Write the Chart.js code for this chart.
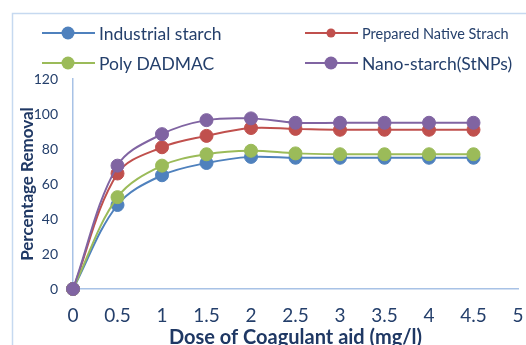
<!DOCTYPE html>
<html>
<head>
<meta charset="utf-8">
<script src="https://cdn.jsdelivr.net/npm/chart.js@4"></script>
<style>
  html, body { margin: 0; padding: 0; background: #ffffff; }
  #wrap { width: 526px; height: 345px; position: relative; }
</style>
</head>
<body>
<div id="wrap"><canvas id="c" width="526" height="345"></canvas></div>
<script>
// Dose of coagulant aid (mg/l)
const doses = [0, 0.5, 1, 1.5, 2, 2.5, 3, 3.5, 4, 4.5];

// Percentage removal for each coagulant aid
const industrialStarch = [0, 48, 65, 72, 75.5, 75, 75, 75, 75, 75];
const preparedNative   = [0, 66, 81, 87.5, 92, 91.5, 91, 91, 91, 91];
const polyDadmac       = [0, 52.5, 70.5, 77, 79, 77.5, 77, 77, 77, 77];
const nanoStarch       = [0, 70.5, 88.5, 96.5, 97.5, 95, 95, 95, 95, 95];

const seriesLabels = ['Industrial starch', 'Prepared Native Strach', 'Poly DADMAC', 'Nano-starch(StNPs)'];
const seriesColors = ['#4f81bd', '#c0504d', '#9bbb59', '#8064a2'];

const FONT = 'Lato, "Open Sans", sans-serif';
const TEXT_BLUE = '#243f6b';

function points(values) {
  return doses.map((d, i) => ({ x: d, y: values[i] }));
}

// Later series are painted over earlier ones
function makeSet(label, values, color, order) {
  return {
    label: label,
    data: points(values),
    order: order,
    clip: false,
    borderColor: color,
    backgroundColor: color,
    borderWidth: 2,
    tension: 0.35,
    pointRadius: 6.5,
    pointBorderWidth: 1,
    pointBorderColor: color,
    pointBackgroundColor: color
  };
}

// Outer frame and two-column legend drawn on the canvas
const frameAndLegend = {
  id: 'frameAndLegend',
  beforeDraw(chart) {
    const ctx = chart.ctx;
    ctx.save();
    ctx.strokeStyle = '#c6d9f0';
    ctx.lineWidth = 1.5;
    ctx.strokeRect(12.5, 13.5, 700, 500);
    ctx.restore();
  },
  afterDraw(chart) {
    const ctx = chart.ctx;
    const slots = [
      { x: 42, y: 33, size: 17.5, r: 6.5 },
      { x: 305, y: 33, size: 14.5, r: 4.5 },
      { x: 42, y: 63, size: 17.5, r: 6.5 },
      { x: 305, y: 63, size: 17.5, r: 6.5 }
    ];
    ctx.save();
    chart.data.datasets.forEach((ds, i) => {
      const s = slots[i];
      ctx.strokeStyle = ds.borderColor;
      ctx.lineWidth = 2;
      ctx.beginPath();
      ctx.moveTo(s.x, s.y);
      ctx.lineTo(s.x + 53, s.y);
      ctx.stroke();
      ctx.fillStyle = ds.backgroundColor;
      ctx.beginPath();
      ctx.arc(s.x + 26, s.y, s.r, 0, Math.PI * 2);
      ctx.fill();
      ctx.fillStyle = TEXT_BLUE;
      ctx.font = s.size + 'px ' + FONT;
      ctx.textBaseline = 'middle';
      ctx.textAlign = 'left';
      ctx.fillText(ds.label, s.x + 57, s.y + 1);
    });
    ctx.restore();
  }
};

new Chart(document.getElementById('c'), {
  type: 'line',
  data: {
    datasets: [
      makeSet(seriesLabels[0], industrialStarch, seriesColors[0], 4),
      makeSet(seriesLabels[1], preparedNative, seriesColors[1], 3),
      makeSet(seriesLabels[2], polyDadmac, seriesColors[2], 2),
      makeSet(seriesLabels[3], nanoStarch, seriesColors[3], 1)
    ]
  },
  options: {
    responsive: false,
    animation: false,
    layout: { padding: { top: 79, right: 8, bottom: 0, left: 0 } },
    plugins: {
      legend: { display: false },
      tooltip: { enabled: false }
    },
    scales: {
      x: {
        type: 'linear',
        min: 0,
        max: 5,
        afterFit(scale) {
          scale.height = 56;
          scale.paddingLeft = 0;
          scale.paddingRight = 4;
        },
        ticks: {
          stepSize: 0.5,
          padding: 15,
          color: TEXT_BLUE,
          font: { family: FONT, size: 19 },
          callback: (v) => String(Number(v))
        },
        grid: { display: false, drawTicks: false },
        border: { display: true, color: '#a8c2e6', width: 1.5 },
        title: {
          display: true,
          text: 'Dose of Coagulant aid (mg/l)',
          color: '#1f3864',
          font: { family: FONT, size: 20, weight: 'bold' },
          padding: { top: 0, bottom: -5 }
        }
      },
      y: {
        min: 0,
        max: 120,
        afterFit(scale) { scale.width = 73; },
        ticks: {
          stepSize: 20,
          padding: 15,
          color: TEXT_BLUE,
          font: { family: FONT, size: 14 }
        },
        grid: { display: false, drawTicks: false },
        border: { display: true, color: '#a8c2e6', width: 1.5 },
        title: {
          display: true,
          text: 'Percentage Removal',
          color: '#1f3864',
          font: { family: FONT, size: 17, weight: 'bold' },
          padding: { top: 17, bottom: 0 }
        }
      }
    }
  },
  plugins: [frameAndLegend]
});
</script>
</body>
</html>
